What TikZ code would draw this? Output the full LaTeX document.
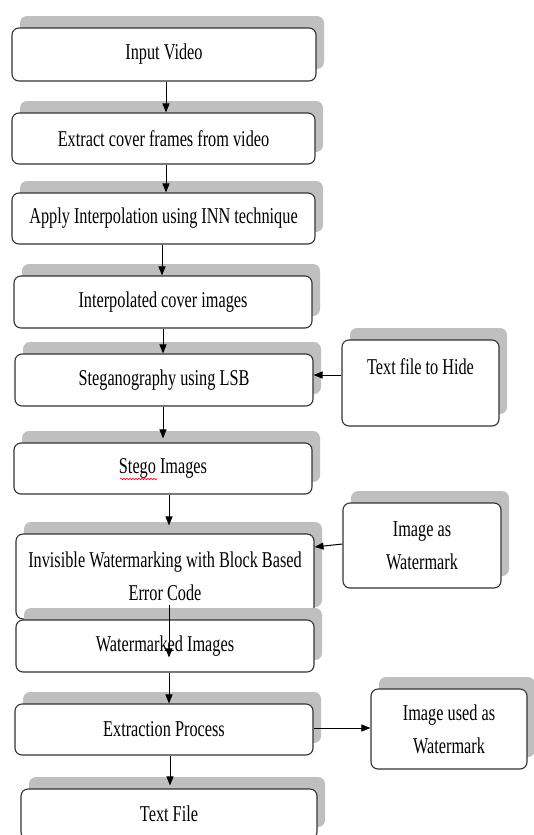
\documentclass[tikz,border=0pt]{standalone}
\usepackage{fontspec}
\setmainfont{Liberation Serif}[FakeStretch=0.72]
\usetikzlibrary{arrows.meta,shadows,decorations.pathmorphing}
\definecolor{shadowgray}{HTML}{BFBFBF}
\definecolor{edgegray}{HTML}{333333}
\begin{document}
\begin{tikzpicture}[x=1pt,y=-1pt,
  box/.style={draw=edgegray, line width=1.1pt, rounded corners=7pt, fill=white,
    inner sep=0pt, align=center, font=\fontsize{22.6}{33}\selectfont,
    drop shadow={shadow xshift=8pt, shadow yshift=12pt, fill=shadowgray, opacity=1}},
  arr/.style={-{Triangle[length=9pt,width=7pt]}, line width=1pt, black}]
\useasboundingbox (0,0) rectangle (534,835);
\fill[white] (0,0) rectangle (534,835);

\node[box, minimum width=304pt, minimum height=53pt] (n1) at (164,54.5) {Input Video};
\node[box, minimum width=303pt, minimum height=51pt] (n2) at (163.5,138.5) {Extract cover frames from video};
\node[box, minimum width=303pt, minimum height=51pt] (n3) at (163.5,218.5) {Apply Interpolation using INN technique};
\node[box, minimum width=298pt, minimum height=52pt] (n4) at (163,302) {Interpolated cover images};
\node[box, minimum width=298pt, minimum height=52pt] (n5) at (164,380) {Steganography using LSB};
\node[box, minimum width=157pt, minimum height=86pt] (s1) at (420.5,383) {Text file to Hide\\\mbox{}};
\node[box, minimum width=298pt, minimum height=51pt] (n6) at (163,468.5) {Stego Images};
\node[box, minimum width=158pt, minimum height=85pt] (s2) at (422,545.5) {Image as\\Watermark};
\node[box, minimum width=298pt, minimum height=85pt] (n7) at (165,576.5) {Invisible Watermarking with Block Based\\Error Code};
\node[box, minimum width=298pt, minimum height=52pt] (n8) at (165,646) {Watermarked Images};
\node[box, minimum width=298pt, minimum height=51pt] (n9) at (164,729.5) {Extraction Process};
\node[box, minimum width=156pt, minimum height=80pt] (s3) at (449,729) {Image used as\\Watermark};
\node[box, minimum width=296pt, minimum height=50pt] (n10) at (169,814) {Text File};

% spell-check squiggle under "Stego"
\draw[red, line width=0.6pt, decorate, decoration={snake, amplitude=0.8pt, segment length=3pt}]
  ([xshift=-43pt,yshift=-10.5pt]n6.center) -- ++(37,0);

% vertical flow
\draw[arr] ([xshift=2pt]n1.south) -- ([xshift=2pt]n1.south |- n2.north);
\draw[arr] ([xshift=2.5pt]n2.south) -- ([xshift=2.5pt]n2.south |- n3.north);
\draw[arr] ([xshift=-1.5pt]n3.south) -- ([xshift=-1.5pt]n3.south |- n4.north);
\draw[arr] (n4.south) -- (n4.south |- n5.north);
\draw[arr] ([xshift=-1pt]n5.south) -- ([xshift=-1pt,yshift=4pt]n5.south |- n6.north);
\draw[arr] ([xshift=6pt]n6.south) -- ([xshift=6pt,yshift=8pt]n6.south |- n7.north);
\coordinate (c78) at ([xshift=4pt,yshift=-38pt]n8.north);
\draw[arr] ([xshift=4pt,yshift=15pt]n7.south) -- (c78);
\draw[arr] ([xshift=4pt]n8.south) -- ([xshift=4pt]n8.south |- n9.north);
\draw[arr] ([xshift=6pt]n9.south) -- ([xshift=6pt,yshift=3pt]n9.south |- n10.north);

% side connectors
\draw[arr] ([yshift=8pt]s1.west) -- ([yshift=8pt]s1.west -| n5.east);
\draw[arr] ([yshift=1.5pt]s2.west) -- ([yshift=29.5pt]n7.east);
\draw[arr] ([yshift=1.5pt]n9.east) -- ([yshift=1.5pt]n9.east -| s3.west);
\end{tikzpicture}
\end{document}
